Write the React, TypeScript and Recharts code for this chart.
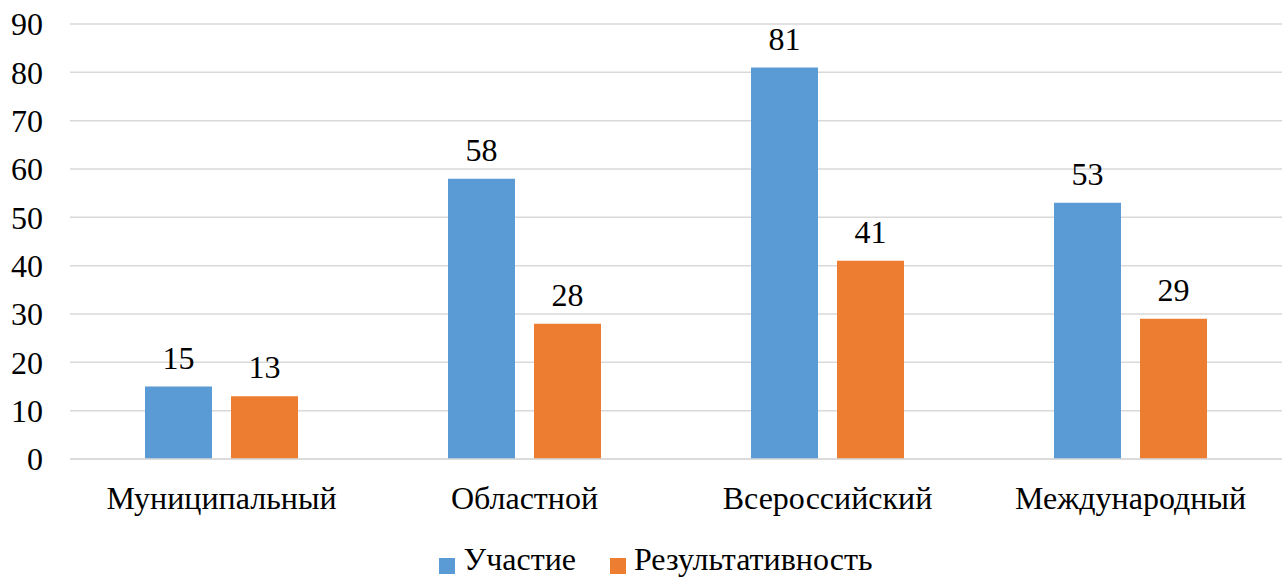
import React from 'react'
import {
  BarChart,
  Bar,
  XAxis,
  YAxis,
  CartesianGrid,
  Legend,
  LabelList
} from 'recharts'

const categories = ['Муниципальный', 'Областной', 'Всероссийский', 'Международный']
const participation = [15, 58, 81, 53]
const results = [13, 28, 41, 29]
const yTicks = [0, 10, 20, 30, 40, 50, 60, 70, 80, 90]

const data = categories.map((name, i) => ({
  name,
  participation: participation[i],
  results: results[i]
}))

const font = "'Liberation Serif'"
const fontSize = 32

export default function App() {
  return (
    <div style={{ position: 'absolute', left: 0, top: 0, fontFamily: font }}>
      <BarChart
        width={1284}
        height={577}
        data={data}
        margin={{ top: 24, right: 2, left: 0, bottom: 0 }}
        barSize={67}
        barGap={19}
      >
        <CartesianGrid vertical={false} stroke='#d9d9d9' strokeWidth={1.5} />
        <XAxis
          dataKey='name'
          height={70}
          tickLine={false}
          tickSize={0}
          tickMargin={27}
          axisLine={{ stroke: '#d9d9d9', strokeWidth: 1.5 }}
          tick={{ fontSize, fill: '#000', fontFamily: font }}
        />
        <YAxis
          width={70}
          domain={[0, 90]}
          ticks={yTicks}
          axisLine={false}
          tickLine={false}
          tickSize={0}
          tickMargin={27}
          tick={{ fontSize, fill: '#000', fontFamily: font }}
        />
        <Legend
          verticalAlign='bottom'
          height={48}
          iconType='square'
          iconSize={16}
          itemSorter='dataKey'
          formatter={(value: string) => (
            <span style={{ color: '#000', fontSize, fontFamily: font, marginLeft: 4, marginRight: 24 }}>
              {value}
            </span>
          )}
          wrapperStyle={{ bottom: -12, paddingLeft: 32 }}
        />
        <Bar dataKey='participation' name='Участие' fill='#5b9bd5' isAnimationActive={false}>
          <LabelList dataKey='participation' position='top' offset={18} fontSize={fontSize} fill='#000' fontFamily={font} />
        </Bar>
        <Bar dataKey='results' name='Результативность' fill='#ed7d31' isAnimationActive={false}>
          <LabelList dataKey='results' position='top' offset={18} fontSize={fontSize} fill='#000' fontFamily={font} />
        </Bar>
      </BarChart>
    </div>
  )
}
